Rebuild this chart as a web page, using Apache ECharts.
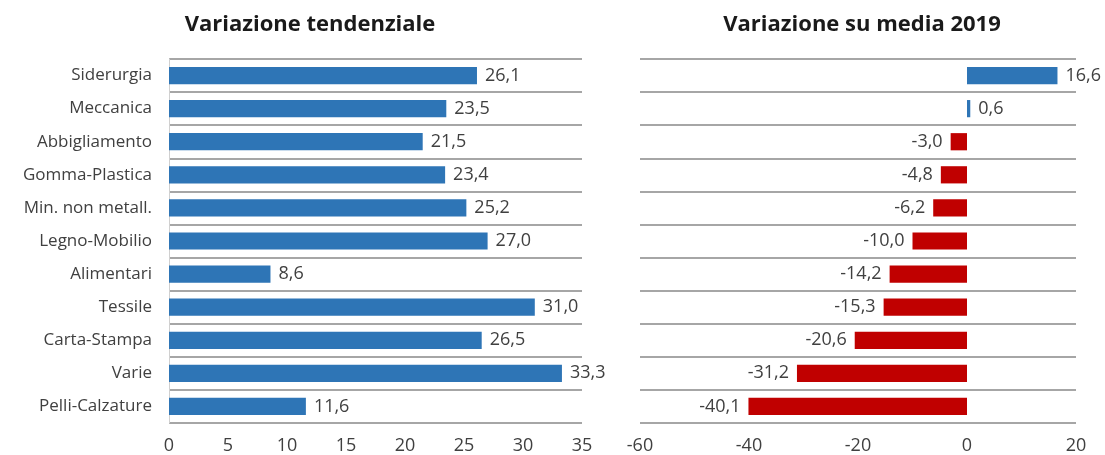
<!DOCTYPE html>
<html>
<head>
<meta charset="utf-8">
<script src="https://cdn.jsdelivr.net/npm/echarts@6/dist/echarts.min.js"></script>
<style>
  html, body { margin: 0; padding: 0; background: #fff; }
  #chart { width: 1105px; height: 455px; }
</style>
</head>
<body>
<div id="chart"></div>
<script>
// Settori (dall'alto verso il basso)
const settori = [
  'Siderurgia', 'Meccanica', 'Abbigliamento', 'Gomma-Plastica', 'Min. non metall.',
  'Legno-Mobilio', 'Alimentari', 'Tessile', 'Carta-Stampa', 'Varie', 'Pelli-Calzature',
];
const varTendenziale = [26.1, 23.5, 21.5, 23.4, 25.2, 27.0, 8.6, 31.0, 26.5, 33.3, 11.6];
const varMedia2019   = [16.6, 0.6, -3.0, -4.8, -6.2, -10.0, -14.2, -15.3, -20.6, -31.2, -40.1];

const titoli = ['Variazione tendenziale', 'Variazione su media 2019'];

const BLU = '#2e75b6';
const ROSSO = '#c00000';
const FONT = '"Open Sans", "Noto Sans", sans-serif';
const TESTO = '#404040';
const fmt = (v) => v.toFixed(1).replace('.', ',');

const chart = echarts.init(document.getElementById('chart'));

const catAxis = (gridIndex, showLabels, showLine) => ({
  type: 'category',
  gridIndex,
  inverse: true,
  data: settori,
  axisTick: { show: false },
  axisLine: { show: showLine, lineStyle: { color: '#d0d0d0', width: 1 } },
  axisLabel: { show: showLabels, color: TESTO, fontSize: 17, fontFamily: FONT, margin: 17 },
  splitLine: { show: true, lineStyle: { color: '#a6a6a6', width: 2 } },
});

const valAxis = (gridIndex, min, max, interval) => ({
  type: 'value',
  gridIndex,
  min, max, interval,
  axisLine: { show: false },
  axisTick: { show: false },
  splitLine: { show: false },
  axisLabel: { color: TESTO, fontSize: 18, fontFamily: FONT, margin: 14 },
});

const titolo = (text, x) => ({
  text, left: x, top: 9, textAlign: 'center',
  textStyle: { fontSize: 22, fontWeight: 'bold', color: '#1a1a1a', fontFamily: FONT },
});

chart.setOption({
  animation: false,
  backgroundColor: '#fff',
  title: [titolo(titoli[0], 305), titolo(titoli[1], 857)],
  grid: [
    { left: 169, width: 413, top: 59, height: 365 },
    { left: 640, width: 436, top: 59, height: 365 },
  ],
  xAxis: [valAxis(0, 0, 35, 5), valAxis(1, -60, 20, 20)],
  yAxis: [catAxis(0, true, true), catAxis(1, false, false)],
  series: [
    {
      name: titoli[0],
      type: 'bar',
      xAxisIndex: 0, yAxisIndex: 0,
      data: varTendenziale,
      barWidth: '52%',
      itemStyle: { color: BLU },
      label: {
        show: true, position: 'right', distance: 8,
        color: TESTO, fontSize: 18, fontFamily: FONT,
        formatter: (p) => fmt(p.value),
      },
    },
    {
      name: titoli[1],
      type: 'bar',
      xAxisIndex: 1, yAxisIndex: 1,
      data: varMedia2019.map((v) => ({
        value: v,
        itemStyle: { color: v >= 0 ? BLU : ROSSO },
        label: { position: v >= 0 ? 'right' : 'left' },
      })),
      barWidth: '52%',
      label: {
        show: true, distance: 8,
        color: TESTO, fontSize: 18, fontFamily: FONT,
        formatter: (p) => fmt(p.value),
      },
    },
  ],
});
</script>
</body>
</html>
